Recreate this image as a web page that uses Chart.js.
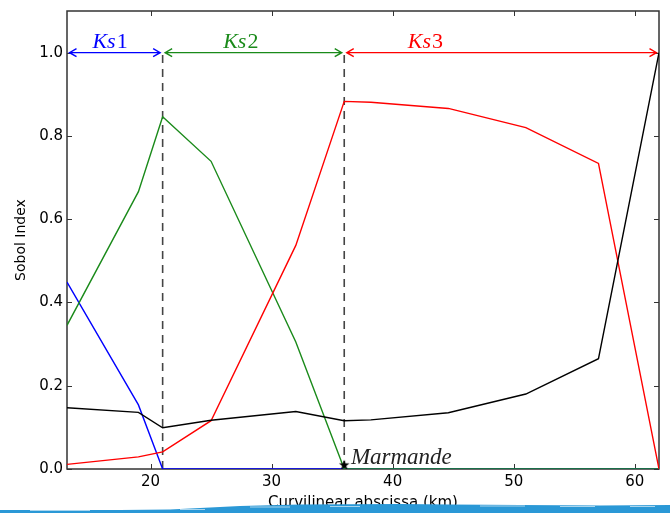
<!DOCTYPE html>
<html>
<head>
<meta charset="utf-8">
<script src="https://cdn.jsdelivr.net/npm/chart.js@4.4.1/dist/chart.umd.min.js"></script>
<style>
  html, body { margin: 0; padding: 0; background: #fff; }
  #wrap { width: 670px; height: 513px; }
</style>
</head>
<body>
<div id="wrap"><canvas id="c" width="670" height="513"></canvas></div>
<script>
// curvilinear abscissa of the computed points (km)
const abscissa = [13.1, 19, 21, 25, 32, 36, 38.2, 44.6, 51, 57, 62];

// sobol indices per zone
const ks1Index = [0.449, 0.154, 0, 0, 0, 0, 0, 0, 0, 0, 0];
const ks2Index = [0.345, 0.666, 0.846, 0.739, 0.305, 0, 0, 0, 0, 0, 0];
const ks3Index = [0.011, 0.029, 0.041, 0.116, 0.537, 0.883, 0.881, 0.866, 0.820, 0.734, 0];
const qIndex = [0.147, 0.136, 0.099, 0.117, 0.138, 0.116, 0.118, 0.135, 0.180, 0.265, 1.0];

const xTicks = [20, 30, 40, 50, 60];
const yTicks = [0, 0.2, 0.4, 0.6, 0.8, 1.0];

// zone limits and labels
const zoneBounds = [21, 36];
const zoneSpans = [[13.1, 21], [21, 36], [36, 62]];
const zoneNames = ['Ks1', 'Ks2', 'Ks3'];
const zoneLabelX = [15.2, 26.0, 41.25];
const zoneColors = ['#0000ff', '#1a8a1a', '#ff0000'];

const cityName = 'Marmande';
const cityX = 36;

const pts = vals => vals.map((v, i) => ({ x: abscissa[i], y: v }));

// filled star for the city marker
const star = document.createElement('canvas');
star.width = 12; star.height = 12;
(() => {
    const g = star.getContext('2d');
    g.fillStyle = '#000';
    g.beginPath();
    for (let i = 0; i < 10; i++) {
        const r = i % 2 ? 2.2 : 5.5;
        const a = -Math.PI / 2 + i * Math.PI / 5;
        g.lineTo(6 + r * Math.cos(a), 6.3 + r * Math.sin(a));
    }
    g.closePath();
    g.fill();
})();

const lineDs = (label, data, color, order) => ({
    label, data: pts(data), borderColor: color, borderWidth: 1.4,
    pointRadius: 0, tension: 0, fill: false, order
});

const dashDs = x => ({
    data: [{ x, y: 0 }, { x, y: 1.0 }],
    borderColor: '#444', borderWidth: 1.6, borderDash: [8, 6],
    pointRadius: 0, order: 10
});

// frame, inward ticks
const framePlugin = {
    id: 'frame',
    beforeDatasetsDraw(chart) {
        const { ctx, chartArea: a, scales } = chart;
        ctx.save();
        ctx.strokeStyle = '#333';
        ctx.lineWidth = 1.5;
        ctx.strokeRect(a.left, a.top, a.right - a.left, a.bottom - a.top);
        ctx.lineWidth = 1;
        ctx.beginPath();
        xTicks.forEach(v => {
            const px = Math.round(scales.x.getPixelForValue(v)) + 0.5;
            ctx.moveTo(px, a.bottom); ctx.lineTo(px, a.bottom - 5);
            ctx.moveTo(px, a.top); ctx.lineTo(px, a.top + 5);
        });
        yTicks.forEach(v => {
            const py = Math.round(scales.y.getPixelForValue(v)) + 0.5;
            ctx.moveTo(a.left, py); ctx.lineTo(a.left + 5, py);
            ctx.moveTo(a.right, py); ctx.lineTo(a.right - 5, py);
        });
        ctx.stroke();
        ctx.restore();
    }
};

// double arrows for zones, their labels, city name, river strip
const notesPlugin = {
    id: 'notes',
    afterDatasetsDraw(chart) {
        const { ctx, scales } = chart;
        const X = v => scales.x.getPixelForValue(v);
        const Y = v => scales.y.getPixelForValue(v);
        ctx.save();
        const py = Y(1.0);
        zoneSpans.forEach(([a, b], i) => {
            const x1 = X(a) + 2.5, x2 = X(b) - 2.5;
            ctx.strokeStyle = zoneColors[i];
            ctx.lineWidth = 1.4;
            ctx.beginPath();
            ctx.moveTo(x1, py); ctx.lineTo(x2, py);
            ctx.moveTo(x1 + 7, py - 4); ctx.lineTo(x1, py); ctx.lineTo(x1 + 7, py + 4);
            ctx.moveTo(x2 - 7, py - 4); ctx.lineTo(x2, py); ctx.lineTo(x2 - 7, py + 4);
            ctx.stroke();

            ctx.fillStyle = zoneColors[i];
            ctx.textBaseline = 'alphabetic';
            ctx.textAlign = 'left';
            const lx = X(zoneLabelX[i]), ly = Y(1.01);
            const word = zoneNames[i].slice(0, 2), num = zoneNames[i].slice(2);
            ctx.font = 'italic 22px "Liberation Serif"';
            ctx.fillText(word, lx, ly);
            const w = ctx.measureText(word).width;
            ctx.font = '22px "Liberation Serif"';
            ctx.fillText(num, lx + w + 1, ly);
        });

        ctx.fillStyle = '#222';
        ctx.font = 'italic 23px "Liberation Serif"';
        ctx.fillText(cityName, X(cityX + 0.55), Y(0.013));
        ctx.restore();
    },
    afterDraw(chart) {
        const { ctx } = chart;
        ctx.save();
        const edge = [[0, 510], [120, 510], [170, 509.5], [200, 508], [240, 506], [300, 504.5], [400, 504], [450, 504.5], [520, 505], [600, 505.5], [670, 505]];
        ctx.fillStyle = '#2a98d6';
        ctx.beginPath();
        ctx.moveTo(0, 513);
        edge.forEach(([x, y]) => ctx.lineTo(x, y));
        ctx.lineTo(670, 513);
        ctx.closePath();
        ctx.fill();
        ctx.strokeStyle = 'rgba(255,255,255,0.6)';
        ctx.lineWidth = 1;
        ctx.beginPath();
        [[30, 510.5, 60], [180, 509.5, 25], [250, 507, 40], [330, 506.5, 30], [480, 506, 45], [560, 506.5, 35], [630, 506.5, 25]].forEach(([x, y, l]) => {
            ctx.moveTo(x, y); ctx.lineTo(x + l, y);
        });
        ctx.stroke();
        ctx.restore();
    }
};

const tickFont = { family: 'DejaVu Sans', size: 15 };

new Chart(document.getElementById('c'), {
    type: 'line',
    data: {
        datasets: [
            lineDs('Ks1', ks1Index, '#0000ff', 4),
            lineDs('Ks2', ks2Index, '#1a8a1a', 3),
            lineDs('Ks3', ks3Index, '#ff0000', 2),
            lineDs('Q', qIndex, '#000000', 1),
            dashDs(zoneBounds[0]),
            dashDs(zoneBounds[1]),
            {
                data: [{ x: cityX, y: 0.01 }],
                pointStyle: star, pointRadius: 6, showLine: false, order: 0
            }
        ]
    },
    options: {
        animation: false,
        responsive: false,
        devicePixelRatio: 1,
        layout: { padding: { top: 11, right: 11, left: 0, bottom: 0 } },
        plugins: {
            legend: { display: false },
            tooltip: { enabled: false }
        },
        scales: {
            x: {
                type: 'linear', min: 13.1, max: 62,
                grid: { display: false, drawTicks: false },
                border: { display: false },
                ticks: { font: tickFont, color: '#000', padding: 4, maxRotation: 0 },
                afterBuildTicks: s => { s.ticks = xTicks.map(v => ({ value: v })); },
                afterFit: s => { s.height = 44; s.paddingLeft = 0; s.paddingRight = 0; },
                title: {
                    display: true, text: 'Curvilinear abscissa (km)', color: '#000',
                    font: tickFont, padding: { top: 0, bottom: 1 }
                }
            },
            y: {
                type: 'linear', min: 0, max: 1.1,
                grid: { display: false, drawTicks: false },
                border: { display: false },
                ticks: { font: tickFont, color: '#000', padding: 4, callback: v => v.toFixed(1) },
                afterBuildTicks: s => { s.ticks = yTicks.map(v => ({ value: v })); },
                afterFit: s => { s.width = 67; s.paddingTop = 0; s.paddingBottom = 0; },
                title: {
                    display: true, text: 'Sobol Index', color: '#000',
                    font: { family: 'DejaVu Sans', size: 14 }, padding: { top: 13, bottom: 0 }
                }
            }
        }
    },
    plugins: [framePlugin, notesPlugin]
});
</script>
</body>
</html>
